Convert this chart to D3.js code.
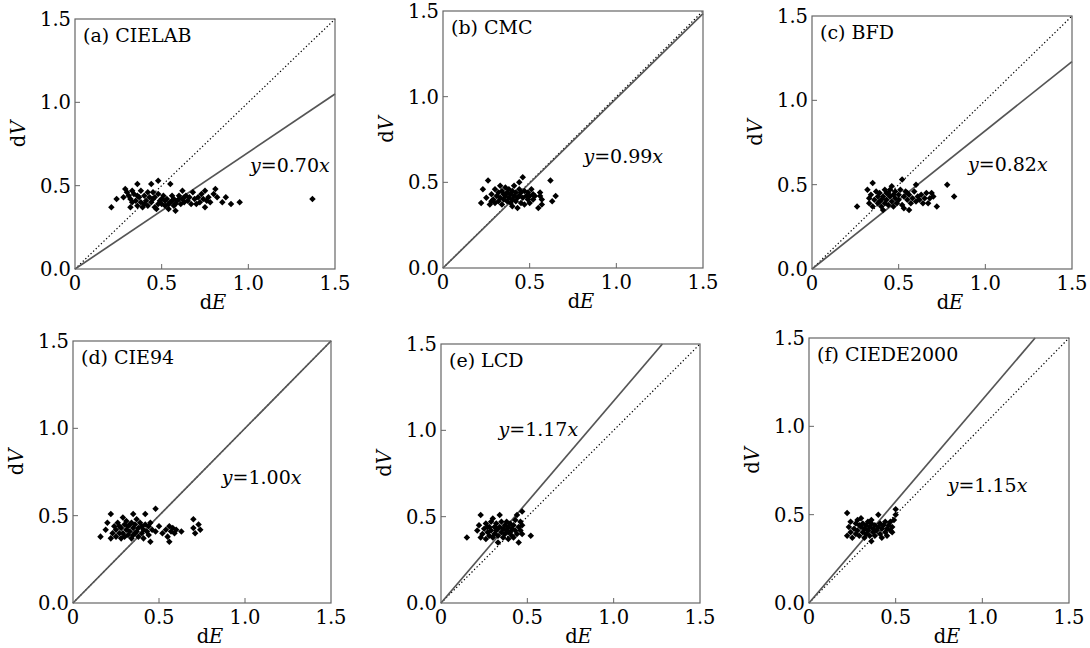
<!DOCTYPE html>
<html lang="en">
<head>
  <meta charset="UTF-8">
  <title>dV vs dE for six colour-difference formulas</title>
  <style>
    body { margin: 0; background: #fff; overflow: hidden; }
    text { font-family: "DejaVu Serif", serif; fill: #000; }
    .tick-label { font-size: 19.5px; }
    .panel-title { font-size: 19px; }
    .eq { font-size: 19px; }
    .axis-title { font-size: 19.5px; }
  </style>
</head>
<body>
  <script src="https://d3js.org/d3.v7.min.js"></script>
  <script>
    const width = 1090;
    const height = 648;

    // panel names and fitted slopes
    const panelNames = ["(a) CIELAB", "(b) CMC", "(c) BFD", "(d) CIE94", "(e) LCD", "(f) CIEDE2000"];
    const slopes = [0.70, 0.99, 0.82, 1.00, 1.17, 1.15];
    const slopeLabels = ["0.70", "0.99", "0.82", "1.00", "1.17", "1.15"];
    // where the equation text sits, in data units [dE, dV]
    const eqAnchors = [[1.01, 0.58], [0.81, 0.61], [0.90, 0.58], [0.865, 0.68], [0.333, 0.97], [0.80, 0.63]];

    const tickValues = [0, 0.5, 1.0, 1.5];
    const xTickLabels = ["0", "0.5", "1.0", "1.5"];
    const yTickLabels = ["0.0", "0.5", "1.0", "1.5"];

    // scatter points [dE, dV]
    const pointsA = [[0.21,0.37],[0.24,0.42],[0.29,0.48],[0.30,0.46],[0.28,0.43],[0.31,0.44],[0.32,0.42],[0.33,0.40],[0.32,0.37],[0.34,0.45],[0.35,0.41],[0.36,0.51],[0.36,0.38],[0.37,0.43],[0.38,0.47],[0.38,0.40],[0.39,0.37],[0.40,0.44],[0.41,0.41],[0.42,0.38],[0.42,0.46],[0.43,0.43],[0.44,0.51],[0.44,0.40],[0.45,0.46],[0.46,0.37],[0.46,0.43],[0.47,0.36],[0.48,0.53],[0.48,0.45],[0.49,0.41],[0.50,0.39],[0.51,0.44],[0.52,0.38],[0.53,0.42],[0.54,0.36],[0.55,0.51],[0.55,0.40],[0.56,0.44],[0.57,0.38],[0.57,0.42],[0.58,0.35],[0.59,0.41],[0.60,0.44],[0.61,0.39],[0.62,0.47],[0.62,0.42],[0.63,0.40],[0.64,0.44],[0.65,0.41],[0.66,0.43],[0.67,0.39],[0.68,0.46],[0.69,0.42],[0.70,0.39],[0.71,0.43],[0.72,0.40],[0.73,0.45],[0.74,0.42],[0.75,0.37],[0.75,0.47],[0.76,0.41],[0.77,0.43],[0.78,0.40],[0.80,0.45],[0.81,0.48],[0.82,0.43],[0.85,0.40],[0.87,0.43],[0.90,0.39],[0.95,0.40],[1.37,0.42],[0.52,0.41],[0.54,0.39],[0.56,0.41],[0.58,0.39],[0.60,0.42],[0.50,0.42],[0.63,0.43],[0.48,0.39],[0.45,0.42],[0.40,0.39],[0.36,0.44],[0.33,0.47]];
    const pointsB = [[0.22,0.38],[0.23,0.46],[0.25,0.41],[0.26,0.51],[0.27,0.37],[0.28,0.43],[0.29,0.40],[0.30,0.46],[0.30,0.38],[0.31,0.42],[0.32,0.44],[0.32,0.39],[0.33,0.41],[0.34,0.45],[0.34,0.37],[0.35,0.43],[0.35,0.40],[0.36,0.47],[0.36,0.42],[0.37,0.39],[0.37,0.44],[0.38,0.41],[0.38,0.46],[0.39,0.38],[0.39,0.43],[0.40,0.45],[0.40,0.40],[0.41,0.48],[0.41,0.42],[0.42,0.39],[0.42,0.44],[0.43,0.35],[0.43,0.41],[0.44,0.46],[0.44,0.42],[0.45,0.38],[0.45,0.44],[0.46,0.53],[0.46,0.41],[0.47,0.45],[0.47,0.37],[0.48,0.42],[0.49,0.44],[0.49,0.40],[0.50,0.42],[0.51,0.46],[0.52,0.43],[0.52,0.40],[0.53,0.42],[0.55,0.35],[0.56,0.44],[0.56,0.42],[0.57,0.40],[0.57,0.37],[0.62,0.51],[0.63,0.39],[0.65,0.42],[0.33,0.48],[0.28,0.39],[0.44,0.50],[0.40,0.36],[0.50,0.38]];
    const pointsC = [[0.26,0.37],[0.32,0.47],[0.33,0.42],[0.33,0.39],[0.34,0.44],[0.35,0.51],[0.35,0.37],[0.36,0.41],[0.37,0.46],[0.38,0.39],[0.38,0.43],[0.39,0.45],[0.40,0.37],[0.40,0.41],[0.41,0.35],[0.41,0.43],[0.42,0.47],[0.42,0.39],[0.43,0.41],[0.44,0.45],[0.44,0.38],[0.45,0.43],[0.45,0.47],[0.46,0.40],[0.47,0.44],[0.47,0.37],[0.48,0.42],[0.48,0.46],[0.49,0.39],[0.50,0.44],[0.50,0.41],[0.51,0.47],[0.52,0.53],[0.52,0.38],[0.53,0.43],[0.53,0.36],[0.54,0.46],[0.55,0.41],[0.56,0.44],[0.56,0.35],[0.57,0.39],[0.58,0.42],[0.59,0.46],[0.60,0.40],[0.60,0.50],[0.61,0.43],[0.62,0.41],[0.63,0.44],[0.64,0.39],[0.65,0.42],[0.66,0.45],[0.67,0.39],[0.68,0.42],[0.69,0.45],[0.70,0.43],[0.72,0.37],[0.78,0.50],[0.82,0.43],[0.46,0.49],[0.43,0.45],[0.39,0.40],[0.55,0.45]];
    const pointsD = [[0.16,0.38],[0.19,0.42],[0.20,0.46],[0.22,0.51],[0.22,0.37],[0.23,0.40],[0.24,0.44],[0.25,0.38],[0.25,0.42],[0.26,0.46],[0.27,0.40],[0.28,0.37],[0.28,0.43],[0.29,0.49],[0.29,0.40],[0.30,0.45],[0.30,0.38],[0.31,0.42],[0.31,0.47],[0.32,0.39],[0.32,0.44],[0.33,0.41],[0.34,0.37],[0.34,0.46],[0.35,0.51],[0.35,0.43],[0.35,0.39],[0.36,0.45],[0.37,0.41],[0.37,0.48],[0.38,0.38],[0.38,0.43],[0.39,0.46],[0.40,0.40],[0.40,0.44],[0.41,0.37],[0.41,0.42],[0.42,0.51],[0.42,0.45],[0.43,0.41],[0.44,0.44],[0.44,0.39],[0.45,0.35],[0.45,0.46],[0.46,0.42],[0.48,0.54],[0.48,0.41],[0.50,0.44],[0.52,0.40],[0.54,0.42],[0.55,0.38],[0.56,0.35],[0.56,0.44],[0.57,0.41],[0.58,0.43],[0.59,0.40],[0.60,0.42],[0.63,0.41],[0.70,0.48],[0.70,0.43],[0.71,0.40],[0.73,0.45],[0.74,0.42],[0.27,0.44],[0.33,0.45],[0.36,0.40]];
    const pointsE = [[0.15,0.38],[0.21,0.42],[0.22,0.45],[0.23,0.51],[0.23,0.38],[0.24,0.40],[0.25,0.43],[0.26,0.37],[0.26,0.46],[0.27,0.41],[0.28,0.44],[0.28,0.39],[0.29,0.47],[0.29,0.42],[0.30,0.49],[0.30,0.38],[0.31,0.44],[0.31,0.40],[0.32,0.46],[0.32,0.42],[0.33,0.35],[0.33,0.39],[0.34,0.51],[0.34,0.44],[0.35,0.41],[0.35,0.47],[0.36,0.38],[0.36,0.43],[0.37,0.45],[0.37,0.40],[0.38,0.42],[0.38,0.47],[0.39,0.37],[0.39,0.44],[0.40,0.41],[0.40,0.46],[0.41,0.39],[0.41,0.43],[0.42,0.45],[0.42,0.38],[0.43,0.42],[0.43,0.48],[0.44,0.51],[0.44,0.40],[0.45,0.44],[0.45,0.35],[0.46,0.42],[0.46,0.47],[0.47,0.53],[0.47,0.45],[0.47,0.40],[0.52,0.39],[0.27,0.44],[0.33,0.43],[0.39,0.41]];
    const pointsF = [[0.22,0.51],[0.22,0.38],[0.23,0.43],[0.24,0.40],[0.24,0.46],[0.25,0.37],[0.26,0.42],[0.27,0.45],[0.27,0.39],[0.28,0.47],[0.28,0.41],[0.29,0.38],[0.30,0.43],[0.30,0.48],[0.31,0.40],[0.31,0.45],[0.32,0.37],[0.32,0.42],[0.33,0.44],[0.33,0.39],[0.34,0.46],[0.34,0.41],[0.35,0.38],[0.35,0.43],[0.36,0.35],[0.36,0.45],[0.37,0.40],[0.37,0.42],[0.38,0.44],[0.38,0.38],[0.39,0.41],[0.40,0.50],[0.40,0.43],[0.41,0.39],[0.41,0.45],[0.42,0.42],[0.42,0.37],[0.43,0.44],[0.44,0.40],[0.44,0.46],[0.45,0.42],[0.45,0.38],[0.46,0.44],[0.47,0.41],[0.47,0.46],[0.48,0.43],[0.49,0.47],[0.50,0.53],[0.50,0.50],[0.48,0.40],[0.29,0.44],[0.36,0.47]];
    const allPoints = [pointsA, pointsB, pointsC, pointsD, pointsE, pointsF];

    // plot boxes on the page: left, top, right, bottom
    const boxes = [
      [75, 19, 335, 269],
      [443, 11, 703, 268],
      [812, 16, 1072, 269],
      [73, 341, 331, 603],
      [441, 344, 700, 603],
      [809, 338, 1069, 603]
    ];

    const svg = d3.select("body").append("svg")
      .attr("width", width)
      .attr("height", height);

    const diamond = d3.symbol().type(d3.symbolDiamond2).size(27);

    boxes.forEach(function(b, i) {
      const x = d3.scaleLinear().domain([0, 1.5]).range([b[0], b[2]]);
      const y = d3.scaleLinear().domain([0, 1.5]).range([b[3], b[1]]);
      const g = svg.append("g");

      // tick marks (inward) and labels
      tickValues.forEach(function(t, k) {
        if (k > 0 && k < 3) {
          g.append("line")
            .attr("x1", x(t)).attr("x2", x(t))
            .attr("y1", b[3]).attr("y2", b[3] - 5)
            .attr("stroke", "#666").attr("stroke-width", 1);
          g.append("line")
            .attr("x1", b[0]).attr("x2", b[0] + 5)
            .attr("y1", y(t)).attr("y2", y(t))
            .attr("stroke", "#666").attr("stroke-width", 1);
        }
        g.append("text")
          .attr("class", "tick-label")
          .attr("x", x(t))
          .attr("y", b[3] + 21)
          .attr("text-anchor", "middle")
          .text(xTickLabels[k]);
        g.append("text")
          .attr("class", "tick-label")
          .attr("x", b[0] - 4)
          .attr("y", y(t))
          .attr("dy", "0.36em")
          .attr("text-anchor", "end")
          .text(yTickLabels[k]);
      });

      // dotted y = x reference
      g.append("line")
        .attr("x1", x(0)).attr("y1", y(0))
        .attr("x2", x(1.5)).attr("y2", y(1.5))
        .attr("stroke", "#000")
        .attr("stroke-width", 1.2)
        .attr("stroke-dasharray", "1.3,2.3");

      // fitted line, clipped at the box edge
      const s = slopes[i];
      const xEnd = Math.min(1.5, 1.5 / s);
      g.append("line")
        .attr("x1", x(0)).attr("y1", y(0))
        .attr("x2", x(xEnd)).attr("y2", y(xEnd * s))
        .attr("stroke", "#555")
        .attr("stroke-width", 1.7);

      g.selectAll("path.pt")
        .data(allPoints[i])
        .enter()
        .append("path")
        .attr("class", "pt")
        .attr("d", diamond)
        .attr("transform", d => "translate(" + x(d[0]) + "," + y(d[1]) + ")")
        .attr("fill", "#000");

      // frame
      g.append("rect")
        .attr("x", b[0]).attr("y", b[1])
        .attr("width", b[2] - b[0]).attr("height", b[3] - b[1])
        .attr("fill", "none")
        .attr("stroke", "#666")
        .attr("stroke-width", 1.2);

      g.append("text")
        .attr("class", "panel-title")
        .attr("x", b[0] + 8)
        .attr("y", b[1] + 23)
        .text(panelNames[i]);

      const eq = g.append("text")
        .attr("class", "eq")
        .attr("x", x(eqAnchors[i][0]))
        .attr("y", y(eqAnchors[i][1]));
      eq.append("tspan").attr("font-style", "italic").text("y");
      eq.append("tspan").text("=" + slopeLabels[i]);
      eq.append("tspan").attr("font-style", "italic").text("x");

      const xt = g.append("text")
        .attr("class", "axis-title")
        .attr("x", (b[0] + b[2]) / 2 + 8)
        .attr("y", b[3] + 40)
        .attr("text-anchor", "middle");
      xt.append("tspan").text("d");
      xt.append("tspan").attr("font-style", "italic").text("E");

      const yt = g.append("text")
        .attr("class", "axis-title")
        .attr("transform", "translate(" + (b[0] - 50) + "," + ((b[1] + b[3]) / 2 - 10) + ") rotate(-90)")
        .attr("text-anchor", "middle");
      yt.append("tspan").text("d");
      yt.append("tspan").attr("font-style", "italic").text("V");
    });
  </script>
</body>
</html>
